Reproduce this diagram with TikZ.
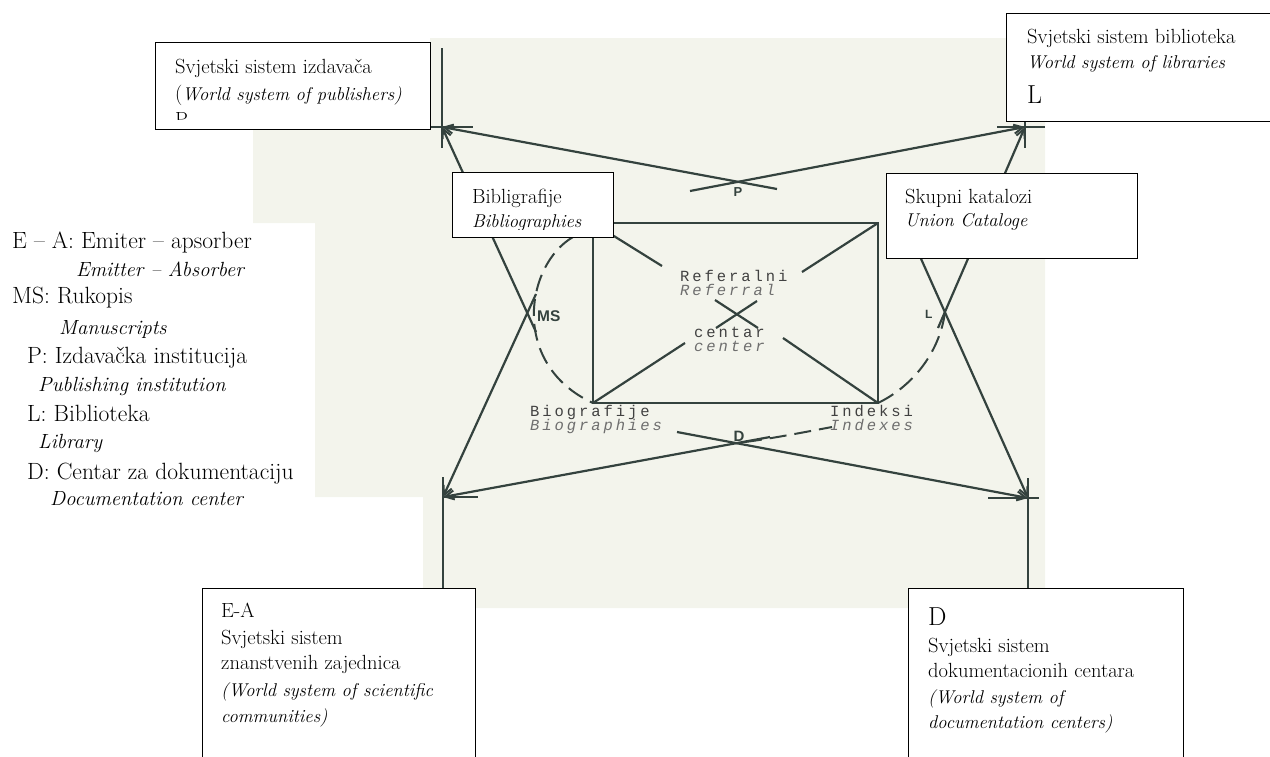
\documentclass[tikz,border=0pt]{standalone}
\usepackage{fontspec}
\newfontfamily\scanmono[LetterSpace=19]{Liberation Mono}
\newfontfamily\scansans{Liberation Sans}
\usetikzlibrary{arrows.meta}
\definecolor{scanbg}{RGB}{243,244,236}
\definecolor{ink}{RGB}{52,66,62}
\definecolor{tink}{RGB}{65,65,65}
\definecolor{tinkit}{RGB}{110,110,110}
\begin{document}
\begin{tikzpicture}[x=1pt,y=-1pt,
  txt/.style={anchor=base west, inner sep=0pt, font=\fontsize{20.5}{25}\selectfont},
  itx/.style={anchor=base west, inner sep=0pt, font=\fontsize{18.5}{25}\selectfont\itshape},
  leg/.style={anchor=base west, inner sep=0pt, font=\fontsize{23.5}{27}\selectfont},
  legit/.style={anchor=base west, inner sep=0pt, font=\fontsize{20.5}{27}\selectfont\itshape},
  big/.style={anchor=base west, inner sep=0pt, font=\fontsize{26}{30}\selectfont},
  box/.style={draw=black, line width=1.3pt, fill=white, anchor=north west, inner sep=0pt},
  wire/.style={draw=ink, line width=2.2pt},
  arr/.style={wire, -{Straight Barb[length=9pt,width=9pt,line width=2pt]}},
  tick/.style={draw=ink, line width=2.6pt},
  arcd/.style={draw=ink, line width=2pt, dash pattern=on 17pt off 8pt},
  mono/.style={anchor=base west, inner sep=0pt, text=tink, font=\scanmono\fontsize{15.5}{13}\selectfont},
  monoit/.style={anchor=base west, inner sep=0pt, text=tinkit, font=\scanmono\fontsize{15.5}{13}\selectfont\itshape},
  marklbl/.style={inner sep=0pt, text=ink, font=\scansans\bfseries\fontsize{13}{13}\selectfont}
]
\useasboundingbox (0,0) rectangle (1270,756);
% scanned background
\fill[scanbg] (430,38) -- (1045,38) -- (1045,608) -- (423,608) -- (423,497)
  -- (315,497) -- (315,223) -- (253,223) -- (253,129) -- (430,129) -- cycle;

% corner points and marks
\coordinate (TL) at (442,127);
\coordinate (TR) at (1025,127);
\coordinate (BL) at (443,497);
\coordinate (BR) at (1028,498);
\coordinate (P) at (738,182);
\coordinate (MS) at (527,313);
\coordinate (L) at (945,312);
\coordinate (D) at (737,443);
\coordinate (Pa) at (777,189);
\coordinate (Pb) at (690,191);
\coordinate (MSa) at (536,332);
\coordinate (MSb) at (536,294);
\coordinate (La) at (938,328);
\coordinate (Lb) at (918,252);
\coordinate (Da) at (770,437);
\coordinate (Db) at (677,432);

% corner ticks
\coordinate (TLv1) at (442,48);  \coordinate (TLv2) at (442,148);
\coordinate (TLh1) at (430,127); \coordinate (TLh2) at (473,127);
\coordinate (TRv1) at (1025,121); \coordinate (TRv2) at (1025,148);
\coordinate (TRh1) at (997,127); \coordinate (TRh2) at (1045,127);
\coordinate (BLv1) at (443,477); \coordinate (BLv2) at (443,588);
\coordinate (BLh1) at (443,497); \coordinate (BLh2) at (478,497);
\coordinate (BRv1) at (1028,478); \coordinate (BRv2) at (1028,588);
\coordinate (BRh1) at (988,498); \coordinate (BRh2) at (1039,498);
\draw[tick] (TLv1) -- (TLv2);
\draw[tick] (TLh1) -- (TLh2);
\draw[tick] (TRv1) -- (TRv2);
\draw[tick] (TRh1) -- (TRh2);
\draw[tick] (BLv1) -- (BLv2);
\draw[tick] (BLh1) -- (BLh2);
\draw[tick] (BRv1) -- (BRv2);
\draw[tick] (BRh1) -- (BRh2);

% flows into corners
\draw[arr] (Pa) -- (TL);
\draw[arr] (Pb) -- (TR);
\draw[arr] (MSa) -- (TL);
\draw[arr] (MSb) -- (BL);
\draw[arr] (La) -- (TR);
\draw[arr] (Lb) -- (BR);
\draw[arr] (Da) -- (BL);
\draw[arr] (Db) -- (BR);

% central rectangle
\coordinate (R1) at (593,223);
\coordinate (R2) at (878,223);
\coordinate (R3) at (878,403);
\coordinate (R4) at (593,403);
\draw[wire] (R1) -- (R2) -- (R3) -- (R4) -- cycle;
\coordinate (G1) at (662,266);
\coordinate (G2) at (802,272);
\coordinate (G3) at (783,338);
\coordinate (G4) at (685,343);
\draw[wire] (R1) -- (G1);
\draw[wire] (R2) -- (G2);
\draw[wire] (R3) -- (G3);
\draw[wire] (R4) -- (G4);
\coordinate (X1) at (715,300); \coordinate (X2) at (758,328);
\coordinate (X3) at (716,328); \coordinate (X4) at (757,301);
\draw[wire] (X1) -- (X2);
\draw[wire] (X3) -- (X4);

% dashed arcs
\coordinate (A1) at (573,237);
\coordinate (A2) at (945,312);
\coordinate (A3) at (745,442);
\coordinate (A4) at (832,427);
\draw[arcd] (A1) .. controls (525,265) and (510,365) .. (R4);
\draw[arcd] (A2) .. controls (940,350) and (915,385) .. (R3);
\draw[arcd] (A3) .. controls (775,438) and (805,432) .. (A4);

% mark labels
\node[marklbl, anchor=base] (lP) at (738,196) {P};
\node[marklbl, anchor=base west, font=\scansans\bfseries\fontsize{15.5}{15}\selectfont] (lMS) at (537,321) {MS};
\node[marklbl, anchor=base west, font=\scansans\bfseries\fontsize{12}{12}\selectfont] (lL) at (925,318) {L};
\node[marklbl, anchor=base, font=\scansans\bfseries\fontsize{15}{15}\selectfont] (lD) at (739,441) {D};

% typewriter labels
\node[mono] (ref1) at (680,281) {Referalni};
\node[monoit] (ref2) at (680,295) {Referral};
\node[mono] (cen1) at (694,337) {centar};
\node[monoit] (cen2) at (694,351) {center};
\node[mono] (bio1) at (530,416) {Biografije};
\node[monoit] (bio2) at (530,430) {Biographies};
\node[mono] (ind1) at (830,416) {Indeksi};
\node[monoit] (ind2) at (830,430) {Indexes};

% boxes
\node[box, minimum width=275pt, minimum height=87pt] (b1) at (155,42) {};
\node[box, minimum width=280pt, minimum height=108pt] (b2) at (1006,13) {};
\node[box, minimum width=161pt, minimum height=65pt] (bBib) at (452,172) {};
\node[box, minimum width=251pt, minimum height=85pt] (bSk) at (886,173) {};
\node[box, minimum width=273pt, minimum height=190pt] (bEA) at (202,588) {};
\node[box, minimum width=275pt, minimum height=190pt] (bD) at (908,588) {};

% box texts
\node[txt] (t11) at (175,73) {Svjetski sistem izdavača};
\node[txt] (t12) at (175,100) {(\itshape\fontsize{18.5}{25}\selectfont World system of publishers)};
\begin{scope}
\clip (160,45) rectangle (425,119);
\node[txt] (t13) at (175,126) {P};
\end{scope}

\node[txt] (t21) at (1027,43) {Svjetski sistem biblioteka};
\node[itx] (t22) at (1027,68) {World system of libraries};
\node[big] (t23) at (1027,103) {L};

\node[txt] (t31) at (472,203) {Bibligrafije};
\begin{scope}
\clip (455,175) rectangle (610,229);
\node[itx] (t32) at (472,227) {Bibliographies};
\end{scope}

\node[txt] (t41) at (905,203) {Skupni katalozi};
\node[itx] (t42) at (905,226) {Union Cataloge};

\node[txt] (t51) at (221,617) {E-A};
\node[txt] (t52) at (221,644) {Svjetski sistem};
\node[txt] (t53) at (221,669) {znanstvenih zajednica};
\node[itx] (t54) at (221,696) {(World system of scientific};
\node[itx] (t55) at (221,722) {communities)};

\node[big] (t61) at (928,625) {D};
\node[txt] (t62) at (928,652) {Svjetski sistem};
\node[txt] (t63) at (928,677) {dokumentacionih centara};
\node[itx] (t64) at (928,703) {(World system of};
\node[itx] (t65) at (928,728) {documentation centers)};

% legend
\node[leg] (g1) at (12,248) {E – A: Emiter – apsorber};
\node[legit] (g2) at (76,276) {Emitter – Absorber};
\node[leg] (g3) at (12,303) {MS: Rukopis};
\node[legit] (g4) at (59,334) {Manuscripts};
\node[leg] (g5) at (27,363) {P: Izdavačka institucija};
\node[legit] (g6) at (38,391) {Publishing institution};
\node[leg] (g7) at (27,421) {L: Biblioteka};
\node[legit] (g8) at (38,448) {Library};
\node[leg] (g9) at (27,479) {D: Centar za dokumentaciju};
\node[legit] (g10) at (50,505) {Documentation center};
\end{tikzpicture}
\end{document}
